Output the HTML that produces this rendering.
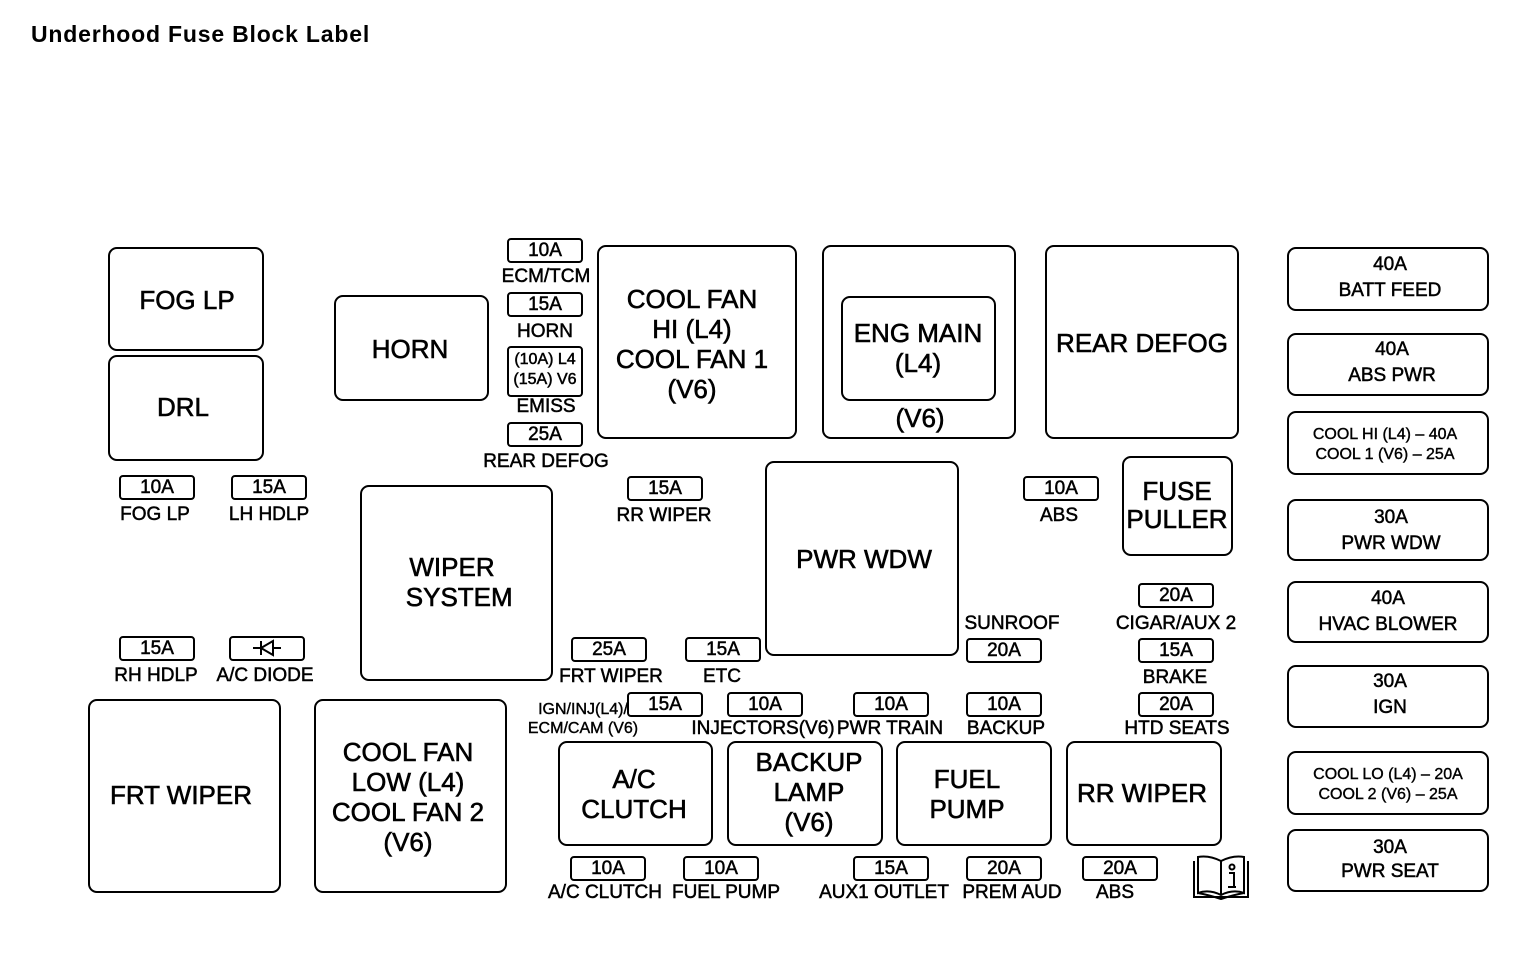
<!DOCTYPE html>
<html><head><meta charset="utf-8"><style>
body{margin:0;width:1520px;height:958px;background:#fff;position:relative;overflow:hidden;font-family:"Liberation Sans",Arial,sans-serif;color:#000}
.b{position:absolute;border:2px solid #000;border-radius:9px;box-sizing:border-box}
.f{position:absolute;border:2px solid #000;border-radius:4px;box-sizing:border-box;width:76px;height:25px;font-size:19px;line-height:21px;text-align:center;-webkit-text-stroke:.5px #000}
.t{position:absolute;transform:translate(-50%,-50%);white-space:nowrap;text-align:center;-webkit-text-stroke:.6px #000}
.L{font-size:26px;line-height:30px}
.s{font-size:19px;line-height:20px;-webkit-text-stroke:.5px #000}
.x{font-size:16px;line-height:20px;-webkit-text-stroke:.4px #000}
</style></head><body>
<div style="position:absolute;left:31px;top:21px;font-size:23px;font-weight:bold;letter-spacing:0.8px">Underhood Fuse Block Label</div>

<div class="b" style="left:108px;top:247px;width:156px;height:104px"></div><div class="t L" style="left:187px;top:300px">FOG LP</div>
<div class="b" style="left:108px;top:355px;width:156px;height:106px"></div><div class="t L" style="left:183px;top:407px">DRL</div>
<div class="b" style="left:334px;top:295px;width:155px;height:106px"></div><div class="t L" style="left:410px;top:349px">HORN</div>
<div class="b" style="left:597px;top:245px;width:200px;height:194px"></div><div class="t L" style="left:692px;top:344px;line-height:30px">COOL FAN<br>HI (L4)<br>COOL FAN 1<br>(V6)</div>
<div class="b" style="left:822px;top:245px;width:194px;height:194px"></div>
<div class="b" style="left:841px;top:296px;width:155px;height:105px"></div><div class="t L" style="left:918px;top:348px">ENG MAIN<br>(L4)</div>
<div class="t L" style="left:920px;top:418px">(V6)</div>
<div class="b" style="left:1045px;top:245px;width:194px;height:194px"></div><div class="t L" style="left:1142px;top:343px">REAR DEFOG</div>
<div class="b" style="left:360px;top:485px;width:193px;height:196px"></div><div class="t L" style="left:452px;top:582px">WIPER<br>&nbsp;&nbsp;SYSTEM</div>
<div class="b" style="left:765px;top:461px;width:194px;height:195px"></div><div class="t L" style="left:864px;top:559px">PWR WDW</div>
<div class="b" style="left:1122px;top:456px;width:111px;height:100px"></div><div class="t L" style="left:1177px;top:505px;line-height:28px">FUSE<br>PULLER</div>
<div class="b" style="left:88px;top:699px;width:193px;height:194px"></div><div class="t L" style="left:181px;top:795px">FRT WIPER</div>
<div class="b" style="left:314px;top:699px;width:193px;height:194px"></div><div class="t L" style="left:408px;top:797px">COOL FAN<br>LOW (L4)<br>COOL FAN 2<br>(V6)</div>
<div class="b" style="left:558px;top:741px;width:155px;height:105px"></div><div class="t L" style="left:634px;top:794px">A/C<br>CLUTCH</div>
<div class="b" style="left:727px;top:741px;width:156px;height:105px"></div><div class="t L" style="left:809px;top:792px">BACKUP<br>LAMP<br>(V6)</div>
<div class="b" style="left:896px;top:741px;width:156px;height:105px"></div><div class="t L" style="left:967px;top:794px">FUEL<br>PUMP</div>
<div class="b" style="left:1066px;top:741px;width:156px;height:105px"></div><div class="t L" style="left:1142px;top:793px">RR WIPER</div>

<div class="b" style="left:1287px;top:247px;width:202px;height:64px"></div><div class="t s" style="left:1390px;top:278px;line-height:26px">40A<br>BATT FEED</div>
<div class="b" style="left:1287px;top:333px;width:202px;height:63px"></div><div class="t s" style="left:1392px;top:363px;line-height:26px">40A<br>ABS PWR</div>
<div class="b" style="left:1287px;top:411px;width:202px;height:64px"></div><div class="t x" style="left:1385px;top:445px">COOL HI (L4) – 40A<br>COOL 1 (V6) – 25A</div>
<div class="b" style="left:1287px;top:499px;width:202px;height:62px"></div><div class="t s" style="left:1391px;top:531px;line-height:26px">30A<br>PWR WDW</div>
<div class="b" style="left:1287px;top:581px;width:202px;height:62px"></div><div class="t s" style="left:1388px;top:612px;line-height:26px">40A<br>HVAC BLOWER</div>
<div class="b" style="left:1287px;top:665px;width:202px;height:63px"></div><div class="t s" style="left:1390px;top:695px;line-height:26px">30A<br>IGN</div>
<div class="b" style="left:1287px;top:751px;width:202px;height:64px"></div><div class="t x" style="left:1388px;top:785px">COOL LO (L4) – 20A<br>COOL 2 (V6) – 25A</div>
<div class="b" style="left:1287px;top:829px;width:202px;height:63px"></div><div class="t s" style="left:1390px;top:860px;line-height:24px">30A<br>PWR SEAT</div>

<div class="f" style="left:507px;top:238px">10A</div><div class="t s" style="left:546px;top:277px">ECM/TCM</div>
<div class="f" style="left:507px;top:292px">15A</div><div class="t s" style="left:545px;top:332px">HORN</div>
<div class="f" style="left:507px;top:346px;height:51px;font-size:16px;line-height:20px;padding-top:2px">(10A) L4<br>(15A) V6</div><div class="t s" style="left:546px;top:407px">EMISS</div>
<div class="f" style="left:507px;top:422px">25A</div><div class="t s" style="left:546px;top:462px">REAR DEFOG</div>
<div class="f" style="left:119px;top:475px">10A</div><div class="t s" style="left:155px;top:515px">FOG LP</div>
<div class="f" style="left:231px;top:475px">15A</div><div class="t s" style="left:269px;top:515px">LH HDLP</div>
<div class="f" style="left:627px;top:476px">15A</div><div class="t s" style="left:664px;top:516px">RR WIPER</div>
<div class="f" style="left:1023px;top:476px">10A</div><div class="t s" style="left:1059px;top:516px">ABS</div>
<div class="f" style="left:1138px;top:583px">20A</div><div class="t s" style="left:1176px;top:624px">CIGAR/AUX 2</div>
<div class="t s" style="left:1012px;top:624px">SUNROOF</div>
<div class="f" style="left:966px;top:638px">20A</div>
<div class="f" style="left:1138px;top:638px">15A</div><div class="t s" style="left:1175px;top:678px">BRAKE</div>
<div class="f" style="left:119px;top:636px">15A</div><div class="t s" style="left:156px;top:676px">RH HDLP</div>
<div class="f" style="left:229px;top:636px"><svg width="72" height="21" viewBox="0 0 72 21"><path d="M22 10H30M30 3V17M30 10L42 3V17L30 10M42 3V17M42 10H50" stroke="#000" stroke-width="2" fill="none"/></svg></div><div class="t s" style="left:265px;top:676px">A/C DIODE</div>
<div class="f" style="left:571px;top:637px">25A</div><div class="t s" style="left:611px;top:677px">FRT WIPER</div>
<div class="f" style="left:685px;top:637px">15A</div><div class="t s" style="left:722px;top:677px">ETC</div>
<div class="f" style="left:627px;top:692px">15A</div><div class="t x" style="left:583px;top:719px;line-height:19px">IGN/INJ(L4)/<br>ECM/CAM (V6)</div>
<div class="f" style="left:727px;top:692px">10A</div><div class="t s" style="left:763px;top:729px">INJECTORS(V6)</div>
<div class="f" style="left:853px;top:692px">10A</div><div class="t s" style="left:890px;top:729px">PWR TRAIN</div>
<div class="f" style="left:966px;top:692px">10A</div><div class="t s" style="left:1006px;top:729px">BACKUP</div>
<div class="f" style="left:1138px;top:692px">20A</div><div class="t s" style="left:1177px;top:729px">HTD SEATS</div>
<div class="f" style="left:570px;top:856px">10A</div><div class="t s" style="left:605px;top:893px">A/C CLUTCH</div>
<div class="f" style="left:683px;top:856px">10A</div><div class="t s" style="left:726px;top:893px">FUEL PUMP</div>
<div class="f" style="left:853px;top:856px">15A</div><div class="t s" style="left:884px;top:893px">AUX1 OUTLET</div>
<div class="f" style="left:966px;top:856px">20A</div><div class="t s" style="left:1012px;top:893px">PREM AUD</div>
<div class="f" style="left:1082px;top:856px">20A</div><div class="t s" style="left:1115px;top:893px">ABS</div>

<svg style="position:absolute;left:1191px;top:853px" width="60" height="50" viewBox="0 0 60 50">
<g fill="none" stroke="#000" stroke-width="2">
<path d="M3 8V44H57V8"/><path d="M7 4V40Q18 36 30 42Q42 36 53 40V4Q42 2 30 8Q18 2 7 4Z"/><path d="M30 8V42"/>
<path d="M7 40Q18 42 30 46Q42 42 53 40"/>
<circle cx="41" cy="14" r="2.5"/><path d="M38 20H43V34H45M37 34H45"/>
</g></svg>
</body></html>
